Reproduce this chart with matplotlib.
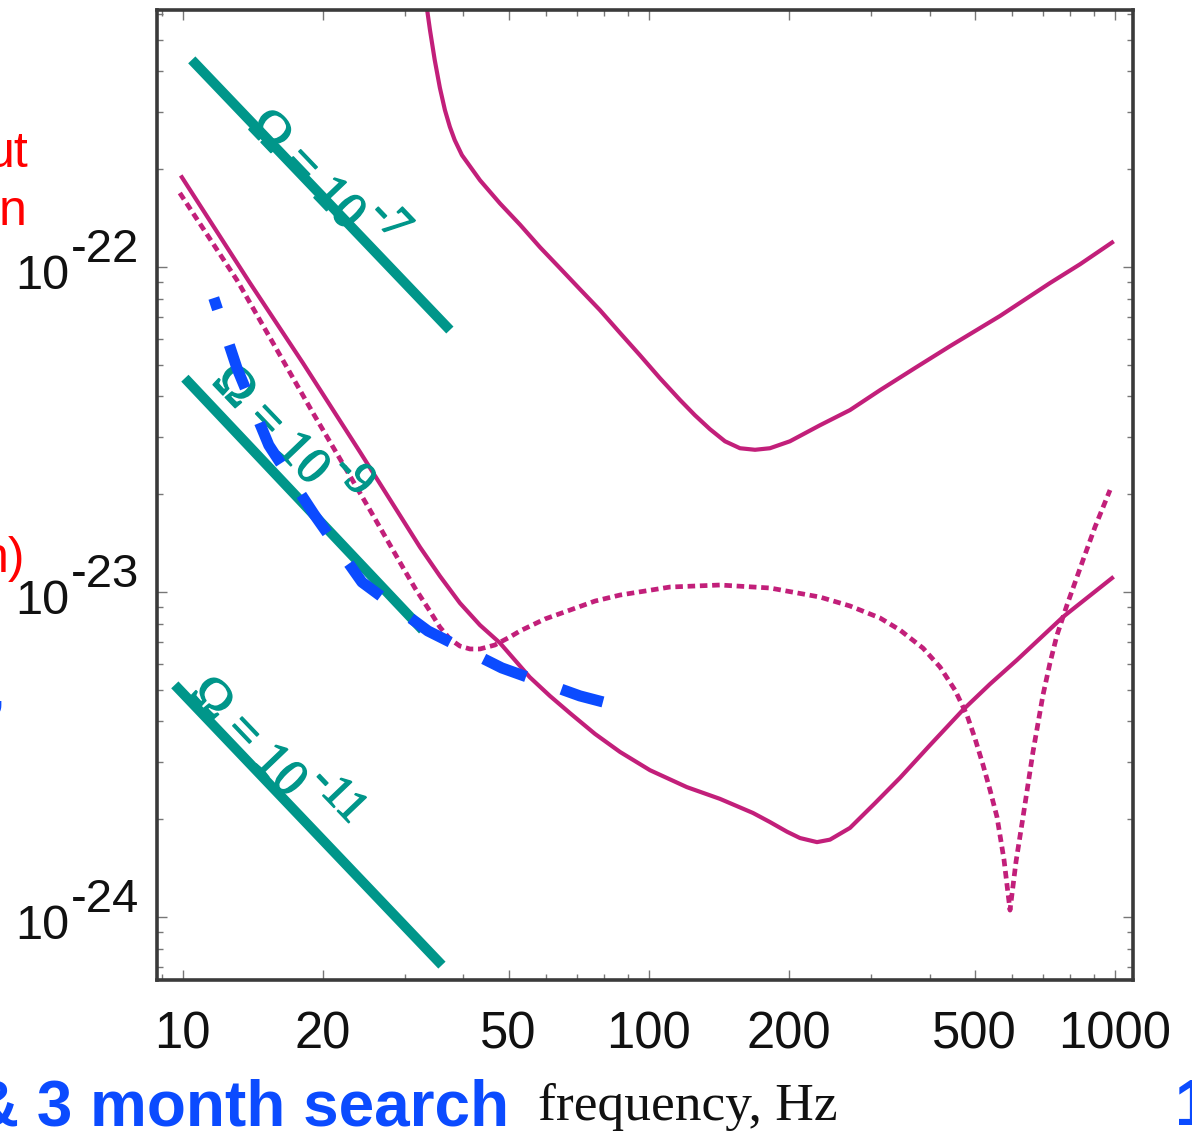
import numpy as np
import matplotlib
matplotlib.use("Agg")
import matplotlib.pyplot as plt
import matplotlib.patheffects as pe
from matplotlib.ticker import FixedLocator, FixedFormatter, NullFormatter, LogLocator

# ---- data -------------------------------------------------------------
# upper sensitivity curve (solid)
upper_f = [33.2, 33.9, 34.7, 35.6, 36.5, 37.4, 38.3, 39.7, 43.4, 47.9, 52.9, 58.4,
           64.4, 71.1, 78.5, 86.7, 95.6, 105.6, 116.6, 125.5, 135.2, 145.6, 156.8,
           168.9, 181.8, 200.7, 232.8, 270.0, 313.2, 372.3, 442.6, 566.5, 725.3,
           841.3, 985.4]
upper_h = [6.63e-22, 5.36e-22, 4.34e-22, 3.56e-22, 3.04e-22, 2.70e-22, 2.46e-22,
           2.21e-22, 1.85e-22, 1.57e-22, 1.35e-22, 1.15e-22, 9.93e-23, 8.55e-23,
           7.37e-23, 6.27e-23, 5.36e-23, 4.55e-23, 3.90e-23, 3.50e-23, 3.17e-23,
           2.91e-23, 2.77e-23, 2.74e-23, 2.77e-23, 2.91e-23, 3.26e-23, 3.63e-23,
           4.18e-23, 4.89e-23, 5.71e-23, 7.07e-23, 8.93e-23, 1.02e-22, 1.19e-22]

# lower sensitivity curve (solid)
lower_f = [9.95, 13.93, 18.09, 23.98, 32.26, 35.6, 39.3, 43.4, 47.9, 55.5, 61.3,
           67.7, 76.6, 86.7, 100.5, 120.6, 142.0, 167.2, 181.8, 197.8, 210.9, 229.4,
           244.6, 270.0, 305.5, 345.6, 400.9, 471.9, 539.3, 616.2, 773.3, 985.4]
lower_h = [1.89e-22, 8.93e-23, 5.07e-23, 2.70e-23, 1.375e-23, 1.12e-23, 9.25e-24,
           7.91e-24, 6.97e-24, 5.47e-24, 4.79e-24, 4.24e-24, 3.66e-24, 3.22e-24,
           2.83e-24, 2.51e-24, 2.31e-24, 2.09e-24, 1.96e-24, 1.83e-24, 1.75e-24,
           1.70e-24, 1.73e-24, 1.88e-24, 2.24e-24, 2.68e-24, 3.38e-24, 4.34e-24,
           5.21e-24, 6.18e-24, 8.38e-24, 1.104e-23]

# narrow-band curve (dotted)
dotted_f = [9.85, 13.06, 15.75, 19.01, 22.27, 25.19, 29.66, 31.47, 33.88, 35.6,
            37.4, 39.3, 41.3, 43.4, 46.7, 50.3, 52.9, 59.8, 67.7, 76.6, 86.7,
            110.9, 142.0, 181.8, 232.8, 270.0, 313.2, 345.6, 387.3, 421.2, 453.7,
            481.3, 500.5, 520.9, 539.3, 558.3, 577.9, 595.3, 613.2, 634.8, 666.8,
            700.6, 725.3, 750.8, 788.8, 853.8, 905.9, 975.7]
dotted_h = [1.69e-22, 9.12e-23, 5.71e-23, 3.56e-23, 2.42e-23, 1.79e-23, 1.19e-23,
            1.029e-23, 8.74e-24, 7.80e-24, 7.17e-24, 6.82e-24, 6.68e-24, 6.68e-24,
            6.87e-24, 7.27e-24, 7.59e-24, 8.26e-24, 8.80e-24, 9.38e-24, 9.79e-24,
            1.036e-23, 1.051e-23, 1.029e-23, 9.65e-24, 9.06e-24, 8.32e-24, 7.64e-24,
            6.72e-24, 5.88e-24, 4.99e-24, 4.18e-24, 3.55e-24, 2.94e-24, 2.46e-24,
            2.03e-24, 1.50e-24, 1.05e-24, 1.48e-24, 2.03e-24, 3.22e-24, 4.82e-24,
            6.05e-24, 7.37e-24, 9.12e-24, 1.254e-23, 1.585e-23, 2.06e-23]

# blue dashed curve
blue_f = [11.65, 13.06, 15.29, 19.10, 24.22, 33.56, 48.35, 71.11, 79.68]
blue_h = [8.03e-23, 4.89e-23, 2.83e-23, 1.738e-23, 1.073e-23, 7.59e-24, 5.84e-24,
          4.79e-24, 4.59e-24]

# constant-Omega lines
omega_exp = ['-7', '-9', '-11']
omega_f_start = [10.45, 10.1, 9.61]
omega_f_end = [37.4, 32.7, 35.96]
omega_h_start = [4.34e-22, 4.55e-23, 5.18e-24]
omega_h_end = [6.40e-23, 7.64e-24, 7.11e-25]
omega_label_f = [14.32, 12.0, 10.72]
omega_label_h = [2.86e-22, 4.69e-23, 5.14e-24]

# axis ticks
x_ticks = [10, 20, 50, 100, 200, 500, 1000]
x_tick_labels = ['10', '20', '50', '100', '200', '500', '1000']
x_minor = [9, 30, 40, 60, 70, 80, 90, 300, 400, 600, 700, 800, 900]
y_decades = [1e-22, 1e-23, 1e-24]
y_decade_exp = ['-22', '-23', '-24']

# ---- styling ----------------------------------------------------------
MAGENTA = '#c21f7a'
TEAL = '#00968a'
BLUE = '#0b4bff'
SANS = 'Liberation Sans'
SERIF = 'Liberation Serif'
DPI = 100

W, H = 1192, 1131
fig = plt.figure(figsize=(W / DPI, H / DPI), dpi=DPI)
ax = fig.add_axes([157 / W, 1 - 980 / H, (1133 - 157) / W, (980 - 10) / H])
ax.set_xscale('log')
ax.set_yscale('log')
ax.set_xlim(8.8, 1093)
ax.set_ylim(6.4e-25, 6.18e-22)

# sensitivity curves
ax.plot(upper_f, upper_h, color=MAGENTA, lw=3.0, solid_joinstyle='round', zorder=2)
ax.plot(lower_f, lower_h, color=MAGENTA, lw=3.0, solid_joinstyle='round', zorder=2)
ax.plot(dotted_f, dotted_h, color=MAGENTA, lw=3.4, linestyle=(0, (1.6, 1.0)),
        zorder=2)

# constant-Omega lines with rotated labels ("Omega = 10" plus raised exponent)
angle = -46.3
th = np.deg2rad(angle)
along = np.array([np.cos(th), np.sin(th)])
up = np.array([-np.sin(th), np.cos(th)])
heavy = [pe.withStroke(linewidth=1.1, foreground=TEAL)]
renderer = fig.canvas.get_renderer()
for e, fs, fe, hs, he, lf, lh in zip(omega_exp, omega_f_start, omega_f_end,
                                     omega_h_start, omega_h_end,
                                     omega_label_f, omega_label_h):
    ax.plot([fs, fe], [hs, he], color=TEAL, lw=7.2, solid_capstyle='butt', zorder=3)
    base = ax.annotate('\u03a9 = 10', xy=(lf, lh), xytext=(0, 0),
                       textcoords='offset points', ha='left', va='center',
                       family=SERIF, fontsize=37, color=TEAL, zorder=4,
                       path_effects=heavy)
    w_pt = base.get_window_extent(renderer).width * 72 / DPI
    base.set_rotation(angle)
    base.set_rotation_mode('anchor')
    off = along * (w_pt + 2.0) + up * 19.0
    ax.annotate(e, xy=(lf, lh), xytext=(off[0], off[1]),
                textcoords='offset points', ha='left', va='center',
                family=SERIF, fontsize=33, color=TEAL, rotation=angle,
                rotation_mode='anchor', zorder=4, path_effects=heavy)

# blue dashed curve on top
ax.plot(blue_f, blue_h, color=BLUE, lw=8, linestyle=(3.06, (4.14, 3.38)),
        dash_capstyle='butt', zorder=5)

# axes frame and ticks
for sp in ax.spines.values():
    sp.set_linewidth(2.6)
    sp.set_color('#3a3a3a')

ax.xaxis.set_major_locator(FixedLocator(x_ticks))
ax.xaxis.set_major_formatter(FixedFormatter(x_tick_labels))
ax.xaxis.set_minor_locator(FixedLocator(x_minor))
ax.xaxis.set_minor_formatter(NullFormatter())
ax.yaxis.set_major_locator(FixedLocator(y_decades))
ax.yaxis.set_major_formatter(NullFormatter())
ax.yaxis.set_minor_locator(LogLocator(base=10, subs=range(2, 10)))
ax.yaxis.set_minor_formatter(NullFormatter())
ax.tick_params(which='both', direction='in', top=True, right=True,
               color='#777777', width=1)
ax.tick_params(which='major', length=7)
ax.tick_params(which='minor', length=4)
ax.tick_params(axis='x', which='major', pad=22, labelsize=36.5, labelcolor='#111111')
for lab in ax.get_xticklabels():
    lab.set_family(SANS)

# y decade labels: "10" with a raised exponent
ytr = ax.get_yaxis_transform()
for v, ex in zip(y_decades, y_decade_exp):
    ax.annotate('10', xy=(0, v), xycoords=ytr, xytext=(-63.4, -15.8),
                textcoords='offset points', ha='right', va='baseline',
                fontsize=35, family=SANS, color='#111111', annotation_clip=False)
    ax.annotate(ex, xy=(0, v), xycoords=ytr, xytext=(-61.9, 3.6),
                textcoords='offset points', ha='left', va='baseline',
                fontsize=34, family=SANS, color='#111111', annotation_clip=False)


def fx(x):
    return x / W


def fy(y):
    return 1 - y / H


# axis title and surrounding slide text
fig.text(fx(538), fy(1120), 'frequency, Hz', family=SERIF, fontsize=38.5,
         color='#111111', ha='left', va='baseline')
fig.text(fx(509), fy(1125), '& 3 month search', family=SANS, fontsize=46,
         weight='bold', color=BLUE, ha='right', va='baseline')
fig.text(fx(1175), fy(1125), '1', family=SANS, fontsize=46, weight='bold',
         color=BLUE, ha='left', va='baseline')
fig.text(fx(29), fy(167), 'ut', family=SANS, fontsize=36, color='#ff0000',
         ha='right', va='baseline')
fig.text(fx(27), fy(225), 'n', family=SANS, fontsize=36, color='#ff0000',
         ha='right', va='baseline')
fig.text(fx(25), fy(572), 'n)', family=SANS, fontsize=36, color='#ff0000',
         ha='right', va='baseline')
fig.text(fx(5), fy(705), ',', family=SANS, fontsize=36, color=BLUE,
         ha='right', va='baseline')

fig.savefig('out.png', dpi=DPI)
